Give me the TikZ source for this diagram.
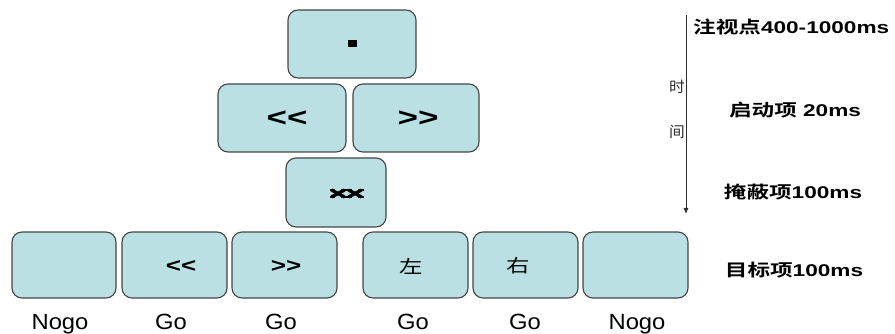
\documentclass[tikz,border=0pt]{standalone}
\usepackage{fontspec}
\usepackage{graphicx}
\setmainfont{Liberation Sans}[Ligatures=TeXOff]
\newfontfamily\cjk{Noto Sans CJK SC}[BoldFont={Noto Sans CJK SC Bold}]
\usetikzlibrary{arrows.meta}
\definecolor{boxfill}{RGB}{187,224,227}
\definecolor{boxline}{RGB}{70,70,70}
\definecolor{axisgray}{RGB}{45,45,45}
\newcommand\wideby[2]{\scalebox{#1}[1]{#2}}
\begin{document}
\begin{tikzpicture}[x=1pt,y=-1pt,
  box/.style={draw=boxline, fill=boxfill, rounded corners=10pt, line width=1.1pt, inner sep=0pt},
  topbox/.style={box, minimum width=128pt, minimum height=68pt},
  botbox/.style={box, minimum width=105pt, minimum height=66pt},
  cuetext/.style={font=\fontsize{26}{28}\selectfont\bfseries},
  tgttext/.style={font=\fontsize{20}{22}\selectfont\bfseries},
  tgtchar/.style={font=\fontsize{18}{20}\selectfont\cjk},
  resp/.style={font=\fontsize{22}{24}\selectfont, anchor=base, inner sep=0pt},
  phase/.style={font=\fontsize{17}{19}\selectfont\bfseries},
  timechar/.style={font=\fontsize{15}{17}\selectfont\cjk, text=axisgray},
  maskstroke/.style={line width=3.3pt, line cap=butt}
]
\useasboundingbox (0,0) rectangle (895,334);

% fixation
\node[topbox] (fix) at (352,44) {};
\node[fill=black, minimum width=9pt, minimum height=7pt, inner sep=0pt] (dot) at (fix) {};

% cue row
\node[topbox] (cueL) at (282,118) {};
\node[topbox, minimum width=126pt] (cueR) at (416,118) {};
\node[cuetext] (cueLt) at (287,119) {\wideby{1.35}{<<}};
\node[cuetext] (cueRt) at (418,119) {\wideby{1.35}{>>}};

% mask: two crossed glyphs with serif bars
\node[box, minimum width=100pt, minimum height=69pt] (mask) at (336,192.5) {};
\foreach \cx in {338,355}{
  \draw[maskstroke] (\cx-6.5,190) -- (\cx+6.5,197);
  \draw[maskstroke] (\cx-6.5,197) -- (\cx+6.5,190);
  \fill (\cx-8.5,188.6) rectangle (\cx-3,191);
  \fill (\cx+3,188.6) rectangle (\cx+8.5,191);
  \fill (\cx-8.5,196) rectangle (\cx-3,198.4);
  \fill (\cx+3,196) rectangle (\cx+8.5,198.4);
}

% targets
\node[botbox, minimum width=104pt] (t1) at (64,265) {};
\node[botbox] (t2) at (174.5,265) {};
\node[botbox] (t3) at (284.5,265) {};
\node[botbox] (t4) at (415.5,265) {};
\node[botbox] (t5) at (525.5,265) {};
\node[botbox] (t6) at (635.5,265) {};
\node[tgttext] (t2t) at (181,266) {\wideby{1.3}{<<}};
\node[tgttext] (t3t) at (286,266) {\wideby{1.3}{>>}};
\node[tgtchar] (t4t) at (411,266) {\wideby{1.3}{左}};
\node[tgtchar] (t5t) at (518,266) {\wideby{1.3}{右}};

% responses
\node[resp] (r1) at (60,329) {\wideby{1.08}{Nogo}};
\node[resp] (r2) at (171,329) {\wideby{1.08}{Go}};
\node[resp] (r3) at (281,329) {\wideby{1.08}{Go}};
\node[resp] (r4) at (413,329) {\wideby{1.08}{Go}};
\node[resp] (r5) at (525,329) {\wideby{1.08}{Go}};
\node[resp] (r6) at (637,329) {\wideby{1.08}{Nogo}};

% time axis
\coordinate (tTop) at (686,15);
\coordinate (tBot) at (686,214);
\draw[axisgray, line width=0.9pt, -{Latex[length=6pt,width=5pt]}] (tTop) -- (tBot);
\node[timechar] (shi) at (677,87) {\wideby{1.05}{时}};
\node[timechar] (jian) at (677,132) {\wideby{1.05}{间}};

% phase labels
\node[phase, anchor=west, inner sep=0pt] (p1) at (693,27) {\wideby{1.33}{{\cjk\bfseries 注视点}400-1000ms}};
\node[phase] (p2) at (795,110) {\wideby{1.33}{{\cjk\bfseries 启动项} 20ms}};
\node[phase] (p3) at (793,192) {\wideby{1.33}{{\cjk\bfseries 掩蔽项}100ms}};
\node[phase] (p4) at (794,270) {\wideby{1.33}{{\cjk\bfseries 目标项}100ms}};
\end{tikzpicture}
\end{document}
